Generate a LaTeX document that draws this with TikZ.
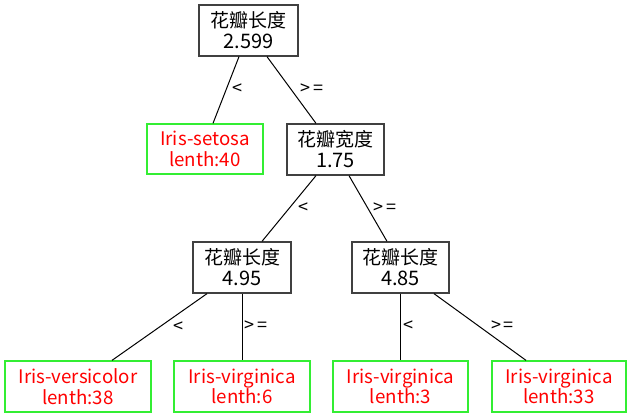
\documentclass[tikz,border=0pt]{standalone}
\usepackage{fontspec}
\setmainfont{Noto Sans CJK SC}
\newfontfamily\cjk{Noto Sans CJK SC}
\definecolor{boxgray}{HTML}{404040}
\definecolor{leafgreen}{HTML}{33EE33}
\definecolor{leafred}{HTML}{FF0000}
\tikzset{
  decbox/.style={draw=boxgray, line width=1.3pt, fill=white, inner sep=0pt, align=center,
    font=\fontsize{20}{21}\selectfont},
  leafbox/.style={draw=leafgreen, line width=1.3pt, fill=white, inner sep=0pt, align=center,
    text=leafred, minimum height=51pt, font=\fontsize{18.7}{20.5}\selectfont},
  edge/.style={draw=black, line width=1pt},
  lab/.style={inner sep=0pt, font=\fontsize{18}{18}\selectfont}
}
\newcommand{\cjkname}[1]{{\cjk\fontsize{19}{21}\selectfont #1}}
\begin{document}
\begin{tikzpicture}[x=1pt,y=-1pt]
\useasboundingbox[fill=white] (0,0) rectangle (632,417);
% decision nodes
\node[decbox, minimum width=99pt, minimum height=51pt] (root) at (248.5,30.5) {\cjkname{花瓣长度}\\2.599};
\node[decbox, minimum width=97pt, minimum height=51pt] (n175) at (335.5,149.5) {\cjkname{花瓣宽度}\\1.75};
\node[decbox, minimum width=98pt, minimum height=51pt] (n495) at (242,267.5) {\cjkname{花瓣长度}\\4.95};
\node[decbox, minimum width=97pt, minimum height=51pt] (n485) at (400.5,267.5) {\cjkname{花瓣长度}\\4.85};
% leaves
\node[leafbox, minimum width=116pt, minimum height=50pt] (setosa) at (205,149) {Iris-setosa\\lenth:40};
\node[leafbox, minimum width=146pt] (vers) at (78,386.5) {Iris-versicolor\\lenth:38};
\node[leafbox, minimum width=136pt] (v6) at (242,386.5) {Iris-virginica\\lenth:6};
\node[leafbox, minimum width=135pt] (v3) at (400.5,386.5) {Iris-virginica\\lenth:3};
\node[leafbox, minimum width=134pt] (v33) at (559,386.5) {Iris-virginica\\lenth:33};
% edges
\draw[edge] ([xshift=-9.5pt]root.south) -- ([xshift=8pt]setosa.north);
\draw[edge] ([xshift=18.5pt]root.south) -- ([xshift=-19.5pt]n175.north);
\draw[edge] ([xshift=-19.5pt]n175.south) -- ([xshift=20pt]n495.north);
\draw[edge] ([xshift=13.5pt]n175.south) -- ([xshift=-13.5pt]n485.north);
\draw[edge] ([xshift=-35pt]n495.south) -- ([xshift=34pt]vers.north);
\draw[edge] (n495.south) -- (v6.north);
\draw[edge] (n485.south) -- (v3.north);
\draw[edge] ([xshift=33.5pt]n485.south) -- ([xshift=-33pt]v33.north);
% edge labels
\node[lab] (l1) at (237.5,89.5) {<};
\node[lab] (l2) at (312,89) {>\,=};
\node[lab] (l3) at (303,208) {<};
\node[lab] (l4) at (385,208) {>\,=};
\node[lab] (l5) at (178,327) {<};
\node[lab] (l6) at (256,326) {>\,=};
\node[lab] (l7) at (408,326) {<};
\node[lab] (l8) at (502.5,326) {>\,=};
\end{tikzpicture}
\end{document}
